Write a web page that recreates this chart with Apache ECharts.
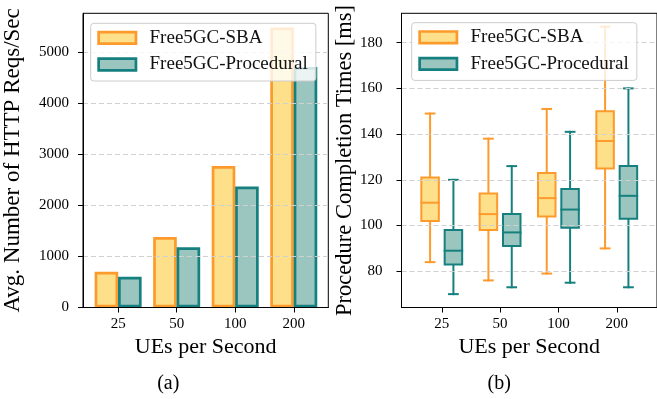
<!DOCTYPE html>
<html>
<head>
<meta charset="utf-8">
<script src="https://cdn.jsdelivr.net/npm/echarts@6/dist/echarts.min.js"></script>
<style>
  html, body { margin: 0; padding: 0; background: #fff; }
  #chart { width: 657px; height: 399px; }
</style>
</head>
<body>
<div id="chart"></div>
<script>
const categories = ["25", "50", "100", "200"];
const reqsSBA = [700, 1380, 2770, 5480];
const reqsProcedural = [600, 1180, 2370, 4710];
// [lower whisker, Q1, median, Q3, upper whisker]
const timesSBA = [[84, 102, 110, 121, 149], [76, 98, 105, 114, 138], [79, 104, 112, 123, 151], [90, 125, 137, 150, 187]];
const timesProcedural = [[70, 83, 89, 98, 120], [73, 91, 97, 105, 126], [75, 99, 107, 116, 141], [73, 103, 113, 126, 160]];
const reqsTicks = [0, 1000, 2000, 3000, 4000, 5000];
const timeTicks = [80, 100, 120, 140, 160, 180];
const catTicks = [0, 1, 2, 3];

const font = "Liberation Serif";
const sbaFill = "#fee08b", sbaEdge = "#fd9a2c";
const procFill = "#9bc6bf", procEdge = "#15807f";

const chart = echarts.init(document.getElementById("chart"));

function boxItem(fill, edge) {
  return function (params, api) {
    const x = api.value(0);
    const pMin = api.coord([x, api.value(1)]);
    const pQ1 = api.coord([x, api.value(2)]);
    const pMed = api.coord([x, api.value(3)]);
    const pQ3 = api.coord([x, api.value(4)]);
    const pMax = api.coord([x, api.value(5)]);
    const hw = api.size([0.3, 0])[0] / 2;
    const cw = hw / 2;
    const cx = pMin[0];
    const line = (x1, y1, x2, y2) => ({
      type: "line",
      shape: { x1: x1, y1: y1, x2: x2, y2: y2 },
      style: { stroke: edge, lineWidth: 2, lineCap: "square" }
    });
    return {
      type: "group",
      children: [
        line(cx, pMin[1], cx, pQ1[1]),
        line(cx, pQ3[1], cx, pMax[1]),
        line(cx - cw, pMin[1], cx + cw, pMin[1]),
        line(cx - cw, pMax[1], cx + cw, pMax[1]),
        {
          type: "rect",
          shape: { x: cx - hw, y: pQ3[1], width: 2 * hw, height: pQ1[1] - pQ3[1] },
          style: { fill: fill, stroke: edge, lineWidth: 2 }
        },
        line(cx - hw, pMed[1], cx + hw, pMed[1])
      ]
    };
  };
}

const labelStyle = { fontFamily: font, fontSize: 15, color: "#000" };
const nameStyle = { fontFamily: font, fontSize: 22, color: "#000" };
const tickStyle = { color: "#000", width: 1 };
const gridLine = { show: true, lineStyle: { color: "#d0d0d0", width: 1, type: [5, 3] } };

function legendOpt(left, top) {
  return {
    orient: "vertical",
    left: left,
    top: top,
    selectedMode: false,
    icon: "rect",
    itemWidth: 37.3,
    itemHeight: 11.6,
    itemGap: 7.6,
    padding: [5.1, 8, 7, 6.6],
    backgroundColor: "rgba(255,255,255,0.8)",
    borderColor: "#cccccc",
    borderWidth: 1,
    borderRadius: 3,
    textStyle: { fontFamily: font, fontSize: 19, lineHeight: 19, color: "#111", padding: [0, 0, 0, 8.6] },
    data: [
      { name: "Free5GC-SBA", itemStyle: { color: sbaFill, borderColor: sbaEdge, borderWidth: 2.7 } },
      { name: "Free5GC-Procedural", itemStyle: { color: procFill, borderColor: procEdge, borderWidth: 2.7 } }
    ]
  };
}

chart.setOption({
  animation: false,
  backgroundColor: "#fff",
  grid: [
    { left: 81.5, top: 13.3, width: 246.8, height: 294.2, show: true, borderColor: "#000", borderWidth: 1 },
    { left: 401.5, top: 13.3, width: 258.5, height: 294.2, show: true, borderColor: "#000", borderWidth: 1 }
  ],
  legend: [legendOpt(90.7, 23.3), legendOpt(411.7, 22.7)],
  xAxis: [
    {
      gridIndex: 0, type: "value", min: -0.6, max: 3.59, z: 3,
      axisLine: { show: true, onZero: false, lineStyle: tickStyle },
      axisTick: { show: true, length: 5, customValues: catTicks, lineStyle: tickStyle },
      axisLabel: { customValues: catTicks, margin: 9, formatter: v => categories[Math.round(v)], ...labelStyle },
      splitLine: { show: false },
      name: "UEs per Second", nameLocation: "middle", nameGap: 29, nameTextStyle: nameStyle
    },
    {
      gridIndex: 1, type: "value", min: -0.69, max: 3.69, z: 3,
      axisLine: { show: true, onZero: false, lineStyle: tickStyle },
      axisTick: { show: true, length: 5, customValues: catTicks, lineStyle: tickStyle },
      axisLabel: { customValues: catTicks, margin: 9, formatter: v => categories[Math.round(v)], ...labelStyle },
      splitLine: { show: false },
      name: "UEs per Second", nameLocation: "middle", nameGap: 29, nameTextStyle: nameStyle
    }
  ],
  yAxis: [
    {
      gridIndex: 0, type: "value", min: 0, max: 5760, splitNumber: 5, z: 3,
      axisLine: { show: true, onZero: false, lineStyle: tickStyle },
      axisTick: { show: true, length: 5, customValues: reqsTicks, lineStyle: tickStyle },
      axisLabel: { customValues: reqsTicks, margin: 14, formatter: v => String(v), ...labelStyle },
      splitLine: gridLine,
      name: "Avg. Number of HTTP Reqs/Sec", nameLocation: "middle", nameGap: 59,
      nameTextStyle: { ...nameStyle, fontSize: 23 }
    },
    {
      gridIndex: 1, type: "value", min: 64.15, max: 192.85, splitNumber: 6, z: 3,
      axisLine: { show: true, onZero: false, lineStyle: tickStyle },
      axisTick: { show: true, length: 5, customValues: timeTicks, lineStyle: tickStyle },
      axisLabel: { customValues: timeTicks, margin: 19, formatter: v => String(v), ...labelStyle },
      splitLine: gridLine,
      name: "Procedure Completion Times [ms]", nameLocation: "middle", nameGap: 44,
      nameTextStyle: { ...nameStyle, fontSize: 22.5 }
    }
  ],
  series: [
    {
      name: "Free5GC-SBA", type: "bar", xAxisIndex: 0, yAxisIndex: 0,
      barWidth: 23.6, barGap: "-100%",
      data: reqsSBA.map((v, i) => [i - 0.2, v]),
      itemStyle: { color: sbaFill, borderColor: sbaEdge, borderWidth: 2.7 }
    },
    {
      name: "Free5GC-Procedural", type: "bar", xAxisIndex: 0, yAxisIndex: 0,
      barWidth: 23.6, barGap: "-100%",
      data: reqsProcedural.map((v, i) => [i + 0.2, v]),
      itemStyle: { color: procFill, borderColor: procEdge, borderWidth: 2.7 }
    },
    {
      name: "Free5GC-SBA", type: "custom", xAxisIndex: 1, yAxisIndex: 1,
      renderItem: boxItem(sbaFill, sbaEdge),
      encode: { x: 0, y: [1, 2, 3, 4, 5] },
      itemStyle: { color: sbaFill, borderColor: sbaEdge },
      data: timesSBA.map((s, i) => [i - 0.2].concat(s))
    },
    {
      name: "Free5GC-Procedural", type: "custom", xAxisIndex: 1, yAxisIndex: 1,
      renderItem: boxItem(procFill, procEdge),
      encode: { x: 0, y: [1, 2, 3, 4, 5] },
      itemStyle: { color: procFill, borderColor: procEdge },
      data: timesProcedural.map((s, i) => [i + 0.2].concat(s))
    }
  ],
  graphic: [
    { type: "text", x: 168.3, y: 383.3, style: { text: "(a)", font: "20px " + font, fill: "#000", align: "center", verticalAlign: "middle" } },
    { type: "text", x: 499.2, y: 383.3, style: { text: "(b)", font: "20px " + font, fill: "#000", align: "center", verticalAlign: "middle" } }
  ]
});
</script>
</body>
</html>
